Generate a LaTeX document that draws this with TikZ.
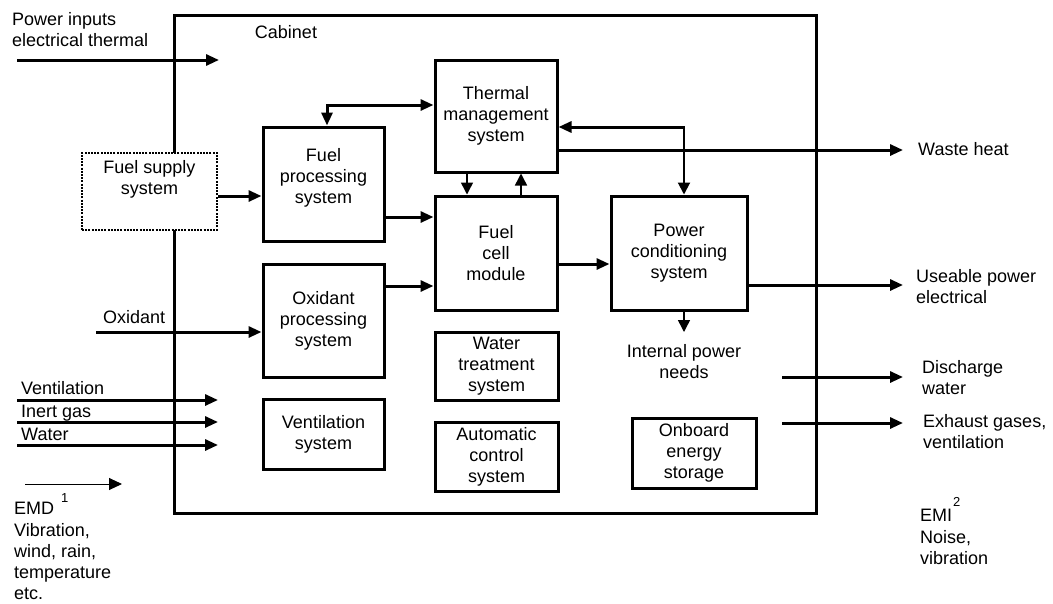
\documentclass[tikz,border=0pt]{standalone}
\usepackage{fontspec}
\setmainfont{Liberation Sans}
\usetikzlibrary{arrows.meta}
\begin{document}
\begin{tikzpicture}[x=1pt,y=-1pt,
  every node/.style={font=\fontsize{18}{21}\selectfont, inner sep=0pt},
  sysbox/.style={draw, line width=3pt, align=center, fill=white},
  dotbox/.style={draw, line width=2pt, dash pattern=on 2pt off 1.2pt, align=center, fill=white},
  bigarr/.style={line width=3pt, -{Triangle[length=13pt,width=11pt]}},
  bothbig/.style={line width=3pt, {Triangle[length=13pt,width=11pt]}-{Triangle[length=13pt,width=11pt]}},
  medarr/.style={line width=2pt, -{Triangle[length=12pt,width=12pt]}},
  thinarr/.style={line width=1.5pt, -{Triangle[length=12pt,width=12pt]}},
  hairarr/.style={line width=1pt, -{Triangle[length=13pt,width=12pt]}},
  lbl/.style={anchor=north west, align=left},
  suptxt/.style={font=\fontsize{13}{13}\selectfont, anchor=north west}
]
\useasboundingbox (0,0) rectangle (1053,603);

% cabinet
\draw[line width=3pt] (174,15) rectangle (816,513);
\node[anchor=north] (cab) at (286,25) {Cabinet};

% boxes
\node[dotbox, minimum width=135pt, minimum height=77pt] (fsup) at (149.5,191.5) {Fuel supply\\system\\[8pt]};
\node[sysbox, minimum width=121pt, minimum height=114pt] (fproc) at (323.5,184) {Fuel\\processing\\system\\[-4pt]};
\node[sysbox, minimum width=122pt, minimum height=112pt] (therm) at (496,116) {Thermal\\management\\system};
\node[sysbox, minimum width=122pt, minimum height=114pt] (fcell) at (496,253) {Fuel\\cell\\module};
\node[sysbox, minimum width=121pt, minimum height=113pt] (oxp) at (323.5,320.5) {Oxidant\\processing\\system};
\node[sysbox, minimum width=121pt, minimum height=70pt] (vent) at (323.5,434) {Ventilation\\system};
\node[sysbox, minimum width=123pt, minimum height=68pt] (water) at (496.5,366) {Water\\treatment\\system};
\node[sysbox, minimum width=123pt, minimum height=69pt] (auto) at (496.5,456.5) {Automatic\\control\\system};
\node[sysbox, minimum width=136pt, minimum height=114pt] (pcond) at (679,253) {Power\\conditioning\\system};
\node[sysbox, minimum width=124pt, minimum height=70pt] (onb) at (694,453) {Onboard\\energy\\storage};

% level coordinates
\coordinate (y105) at (0,105);
\coordinate (y127) at (0,127);
\coordinate (y150) at (0,150);
\coordinate (y196) at (0,196);
\coordinate (y217) at (0,217);
\coordinate (y264) at (0,264);
\coordinate (y285) at (0,285);
\coordinate (y286) at (0,286);
\coordinate (y332) at (0,332);
\coordinate (x327) at (327,0);
\coordinate (x467) at (467,0);
\coordinate (x521) at (521,0);
\coordinate (x684) at (684,0);

% free ends
\coordinate (pinS) at (17,60);
\coordinate (pinE) at (219,60);
\coordinate (oxS) at (96,332);
\coordinate (v1S) at (17,400);
\coordinate (v1E) at (218,400);
\coordinate (v2S) at (17,422);
\coordinate (v2E) at (218,422);
\coordinate (v3S) at (17,445);
\coordinate (v3E) at (218,445);
\coordinate (emdS) at (25,484);
\coordinate (emdE) at (122,484);
\coordinate (wasteE) at (903,150);
\coordinate (useE) at (903,285);
\coordinate (ipE) at (684,332);
\coordinate (disS) at (782,377);
\coordinate (disE) at (903,377);
\coordinate (exS) at (782,423);
\coordinate (exE) at (903,423);
\coordinate (tpc) at (684,127);

% connectors
\draw[bigarr] (pinS) -- (pinE);
\draw[bigarr] (fsup.east |- y196) -- (fproc.west |- y196);
\draw[bothbig] (fproc.north -| x327) |- (therm.west |- y105);
\draw[bigarr] (fproc.east |- y217) -- (fcell.west |- y217);
\draw[bigarr] (oxp.east |- y286) -- (fcell.west |- y286);
\draw[thinarr] (therm.south -| x467) -- (fcell.north -| x467);
\draw[thinarr] (fcell.north -| x521) -- (therm.south -| x521);
\draw[bigarr] (fcell.east |- y264) -- (pcond.west |- y264);
\draw[bigarr] (tpc) -- (therm.east |- y127);
\draw[medarr] ([yshift=1pt]tpc) -- (pcond.north -| x684);
\draw[bigarr] (therm.east |- y150) -- (wasteE);
\draw[bigarr] (pcond.east |- y285) -- (useE);
\draw[thinarr] (pcond.south -| x684) -- (ipE);
\draw[bigarr] (oxS) -- (oxp.west |- oxS);
\draw[bigarr] (v1S) -- (v1E);
\draw[bigarr] (v2S) -- (v2E);
\draw[bigarr] (v3S) -- (v3E);
\draw[hairarr] (emdS) -- (emdE);
\draw[bigarr] (disS) -- (disE);
\draw[bigarr] (exS) -- (exE);

% labels
\node[lbl] (tpin) at (12,12) {Power inputs\\electrical thermal};
\node[anchor=base west] (tox) at (103,323) {Oxidant};
\node[anchor=base west] (tv1) at (21,394) {Ventilation};
\node[anchor=base west] (tv2) at (21,417) {Inert gas};
\node[anchor=base west] (tv3) at (21,440) {Water};
\node[anchor=base west] (temd) at (14,514) {EMD};
\node[suptxt] (temd1) at (61,493) {1};
\node[lbl] (temdt) at (14,523) {Vibration,\\wind, rain,\\temperature\\etc.};
\node[anchor=base west] (twaste) at (918,155) {Waste heat};
\node[lbl] (tuse) at (916,269) {Useable power\\electrical};
\node[anchor=north, align=center] (tip) at (684,344) {Internal power\\needs};
\node[lbl] (tdis) at (922,360) {Discharge\\water};
\node[lbl] (tex) at (923,414) {Exhaust gases,\\ventilation};
\node[anchor=base west] (temi) at (920,521) {EMI};
\node[suptxt] (temi2) at (953,497) {2};
\node[lbl] (temit) at (920,530) {Noise,\\vibration};
\end{tikzpicture}
\end{document}
